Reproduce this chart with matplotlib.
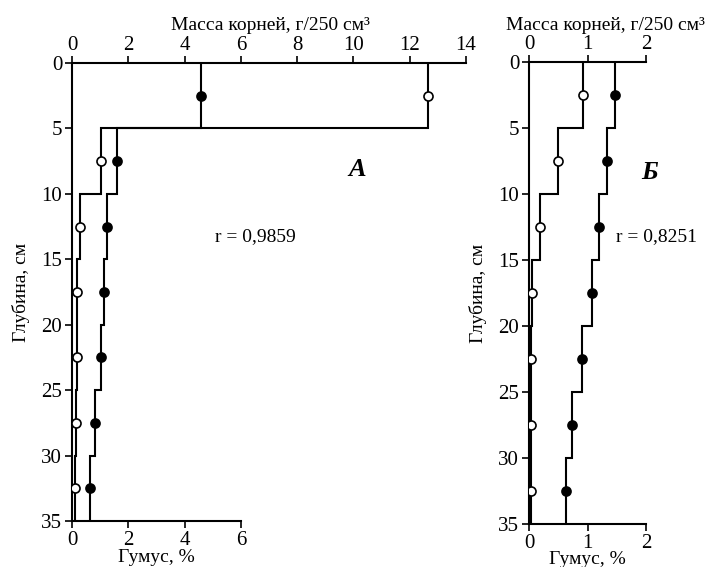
import numpy as np
import matplotlib
matplotlib.use("Agg")
import matplotlib.pyplot as plt

plt.rcParams['font.family'] = ['Liberation Serif', 'DejaVu Serif']
plt.rcParams['font.size'] = 14

# depth layers, cm
depth_edges = [0, 5, 10, 15, 20, 25, 30, 35]
depth_mid = [2.5, 7.5, 12.5, 17.5, 22.5, 27.5, 32.5]

# panel A
roots_a = [12.65, 1.04, 0.30, 0.19, 0.19, 0.15, 0.10]
humus_a = [4.6, 1.59, 1.26, 1.15, 1.03, 0.82, 0.65]
# panel B
roots_b = [0.925, 0.49, 0.18, 0.057, 0.04, 0.03, 0.03]
humus_b = [1.47, 1.34, 1.20, 1.08, 0.91, 0.73, 0.63]

top_ticks_a = [0, 2, 4, 6, 8, 10, 12, 14]
bot_ticks_a = [0, 2, 4, 6]
top_ticks_b = [0, 1, 2]
bot_ticks_b = [0, 1, 2]
depth_ticks = [0, 5, 10, 15, 20, 25, 30, 35]

W, H = 706, 567
fig = plt.figure(figsize=(W / 100, H / 100), dpi=100)

lw = 1.5


def panel(rect, roots, humus, xmax, top_ticks, bot_ticks, letter, rtext, letter_xy, r_xy,
          top_label_x, bot_label_y):
    ax = fig.add_axes(rect)
    ax.stairs(roots, depth_edges, orientation='horizontal', baseline=None, color='black', lw=lw)
    ax.stairs(humus, depth_edges, orientation='horizontal', baseline=None, color='black', lw=lw)
    ax.plot(roots, depth_mid, 'o', ms=6.5, mfc='white', mec='black', mew=1.2, zorder=5)
    ax.plot(humus, depth_mid, 'o', ms=6.5, mfc='black', mec='black', mew=1.2, zorder=5)
    ax.set_xlim(0, xmax)
    ax.set_ylim(35, 0)
    ax.set_yticks(depth_ticks)
    ax.set_xticks(bot_ticks)
    ax.spines['right'].set_visible(False)
    ax.spines['top'].set_visible(False)
    ax.spines['bottom'].set_bounds(bot_ticks[0], bot_ticks[-1])
    for s in ax.spines.values():
        s.set_linewidth(lw)
    ax.tick_params(direction='out', length=5, width=1.2, pad=2, labelsize=15)
    ax.set_xlabel('Гумус, %')
    ax.xaxis.set_label_coords((bot_ticks[-1] / 2) / xmax, bot_label_y)
    ax.set_ylabel('Глубина, см', labelpad=8)
    sec = ax.secondary_xaxis('top')
    sec.set_xticks(top_ticks)
    sec.spines['top'].set_linewidth(lw)
    sec.tick_params(direction='out', length=5, width=1.2, pad=1, labelsize=15)
    fig.text(top_label_x / W, 1 - 25 / H, 'Масса корней, г/250 см³', fontsize=14,
             ha='center', va='center')
    fig.text(letter_xy[0] / W, 1 - letter_xy[1] / H, letter, fontsize=19,
             fontweight='bold', fontstyle='italic', ha='center', va='center')
    fig.text(r_xy[0] / W, 1 - r_xy[1] / H, rtext, fontsize=14, ha='center', va='center')
    return ax


panel([72 / W, 1 - 521 / H, 394 / W, 458 / H], roots_a, humus_a, 14,
      top_ticks_a, bot_ticks_a, 'А', 'r = 0,9859', (357, 170), (255, 237), 270, -0.061)
panel([529 / W, 1 - 524 / H, 117 / W, 462 / H], roots_b, humus_b, 2,
      top_ticks_b, bot_ticks_b, 'Б', 'r = 0,8251', (650, 173), (656, 237), 605, -0.058)

fig.savefig('out.png', dpi=100)
